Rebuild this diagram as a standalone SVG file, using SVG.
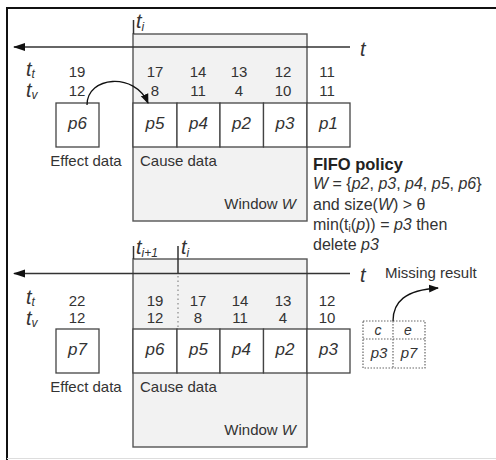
<svg xmlns="http://www.w3.org/2000/svg" width="496" height="460" viewBox="0 0 496 460">
<style>
text{font-family:"Liberation Sans",Arial,sans-serif;fill:#333}
.num{font-size:15px;text-anchor:middle}
.lab{font-size:15px}
.p{font-size:17px;font-style:italic;text-anchor:middle}
.it{font-style:italic}
.tl{font-size:20px;font-style:italic}
.sub{font-size:12px;font-style:italic}
.win{fill:#f2f2f2;stroke:#555;stroke-width:1.4}
.box{fill:#fff;stroke:#444;stroke-width:1.3}
.ax{stroke:#333;stroke-width:1.5;fill:none}
.dot{fill:none;stroke:#666;stroke-width:1.2;stroke-dasharray:1.5 1.5}
</style>
<defs>
<marker id="ah" viewBox="0 0 10 10" refX="9" refY="5" markerWidth="10" markerHeight="10" markerUnits="userSpaceOnUse" orient="auto">
<path d="M0,1 L10,5 L0,9 z" fill="#111"/>
</marker>
<marker id="axh" viewBox="0 0 12 10" refX="11" refY="5" markerWidth="12" markerHeight="10" markerUnits="userSpaceOnUse" orient="auto">
<path d="M0,1 L12,5 L0,9 z" fill="#111"/>
</marker>
</defs>
<g id="frame">
<path d="M7,460 V8 H496" fill="none" stroke="#111" stroke-width="2"/>
<line x1="7" y1="458.5" x2="496" y2="458.5" stroke="#ddd" stroke-width="1"/>
</g>

<!-- Top panel -->
<g id="window1"><rect class="win" x="133" y="34" width="174" height="187"/>
<text class="lab" x="140" y="166">Cause data</text>
<text class="lab" x="296" y="209" text-anchor="end">Window <tspan class="it">W</tspan></text></g>
<g id="axis1">
<line class="ax" x1="133.5" y1="20" x2="133.5" y2="34"/>
<text x="136" y="28"><tspan class="tl" font-size="17px">t</tspan><tspan class="sub" font-size="10px" dy="3">i</tspan></text>
<line class="ax" x1="350" y1="47" x2="14" y2="47" marker-end="url(#axh)"/>
<text class="tl" x="360" y="56" font-size="22px">t</text>
</g>
<g id="labels1">
<text x="26" y="76"><tspan class="tl">t</tspan><tspan class="sub" dy="2">t</tspan></text>
<text x="26" y="97"><tspan class="tl">t</tspan><tspan class="sub" dy="2">v</tspan></text>
<text class="num" x="77" y="77">19</text><text class="num" x="77" y="96">12</text>
<text class="num" x="155" y="77">17</text><text class="num" x="155" y="96">8</text>
<text class="num" x="198" y="77">14</text><text class="num" x="198" y="96">11</text>
<text class="num" x="239" y="77">13</text><text class="num" x="239" y="96">4</text>
<text class="num" x="283" y="77">12</text><text class="num" x="283" y="96">10</text>
<text class="num" x="327" y="77">11</text><text class="num" x="327" y="96">11</text>
</g>
<g id="p6a"><rect class="box" x="56" y="103" width="43" height="44"/><text class="p" x="77.5" y="129">p6</text></g>
<text class="lab" x="86" y="166" text-anchor="middle">Effect data</text>
<g id="p5a"><rect class="box" x="133" y="103" width="44" height="44"/><text class="p" x="155" y="129">p5</text></g>
<g id="p4a"><rect class="box" x="177" y="103" width="43" height="44"/><text class="p" x="198.5" y="129">p4</text></g>
<g id="p2a"><rect class="box" x="220" y="103" width="43.5" height="44"/><text class="p" x="241.5" y="129">p2</text></g>
<g id="p3a"><rect class="box" x="263.5" y="103" width="43.5" height="44"/><text class="p" x="285" y="129">p3</text></g>
<g id="p1a"><rect class="box" x="307" y="103" width="43" height="44"/><text class="p" x="328.5" y="129">p1</text></g>
<g id="fifo">
<text x="313" y="170" font-size="16.5px" font-weight="bold" style="fill:#222">FIFO policy</text>
<text x="313" y="189" font-size="16px"><tspan class="it">W</tspan> = {<tspan class="it">p2</tspan>, <tspan class="it">p3</tspan>, <tspan class="it">p4</tspan>, <tspan class="it">p5</tspan>, <tspan class="it">p6</tspan>}</text>
<text x="313" y="210" font-size="16px">and size(<tspan class="it">W</tspan>) &gt; θ</text>
<text x="313" y="230" font-size="16px">min(t<tspan font-size="10px" dy="2">i</tspan><tspan dy="-2">(</tspan><tspan class="it">p</tspan>)) = <tspan class="it">p3</tspan> then</text>
<text x="313" y="250" font-size="16px">delete <tspan class="it">p3</tspan></text>
</g>

<!-- Bottom panel -->
<g id="window2"><rect class="win" x="133" y="259" width="174" height="188"/>
<text class="lab" x="140" y="392">Cause data</text>
<text class="lab" x="296" y="435" text-anchor="end">Window <tspan class="it">W</tspan></text></g>
<g id="axis2">
<line class="ax" x1="133.5" y1="246" x2="133.5" y2="259"/>
<line class="ax" x1="178" y1="246" x2="178" y2="274"/>
<line x1="178" y1="276" x2="178" y2="329" stroke="#888" stroke-width="1.2" stroke-dasharray="1.5 3"/>
<text x="136" y="254"><tspan class="tl" font-size="17px">t</tspan><tspan class="sub" font-size="10px" dy="3">i+1</tspan></text>
<text x="181" y="254"><tspan class="tl" font-size="17px">t</tspan><tspan class="sub" font-size="10px" dy="3">i</tspan></text>
<line class="ax" x1="350" y1="273.5" x2="14" y2="273.5" marker-end="url(#axh)"/>
<text class="tl" x="360" y="282" font-size="22px">t</text>
</g>
<g id="labels2">
<text x="26" y="304"><tspan class="tl">t</tspan><tspan class="sub" dy="2">t</tspan></text>
<text x="26" y="325"><tspan class="tl">t</tspan><tspan class="sub" dy="2">v</tspan></text>
<text class="num" x="77" y="306">22</text><text class="num" x="77" y="323">12</text>
<text class="num" x="155" y="306">19</text><text class="num" x="155" y="323">12</text>
<text class="num" x="198" y="306">17</text><text class="num" x="198" y="323">8</text>
<text class="num" x="240" y="306">14</text><text class="num" x="240" y="323">11</text>
<text class="num" x="283" y="306">13</text><text class="num" x="283" y="323">4</text>
<text class="num" x="327" y="306">12</text><text class="num" x="327" y="323">10</text>
</g>
<g id="p7b"><rect class="box" x="56" y="329" width="43" height="44"/><text class="p" x="77.5" y="355">p7</text></g>
<text class="lab" x="86" y="392" text-anchor="middle">Effect data</text>
<g id="p6b"><rect class="box" x="133" y="329" width="44" height="44"/><text class="p" x="155" y="355">p6</text></g>
<g id="p5b"><rect class="box" x="177" y="329" width="43" height="44"/><text class="p" x="198.5" y="355">p5</text></g>
<g id="p4b"><rect class="box" x="220" y="329" width="43.5" height="44"/><text class="p" x="241.5" y="355">p4</text></g>
<g id="p2b"><rect class="box" x="263.5" y="329" width="43.5" height="44"/><text class="p" x="285" y="355">p2</text></g>
<g id="p3b"><rect class="box" x="307" y="329" width="43" height="44"/><text class="p" x="328.5" y="355">p3</text></g>
<g id="result">
<rect class="dot" x="363" y="321" width="62" height="47"/>
<line class="dot" x1="363" y1="339" x2="425" y2="339"/>
<line class="dot" x1="393" y1="321" x2="393" y2="368"/>
<text x="378" y="335" font-size="14px" class="it" text-anchor="middle">c</text>
<text x="408" y="335" font-size="14px" class="it" text-anchor="middle">e</text>
<text x="379" y="358" font-size="15px" class="it" text-anchor="middle">p3</text>
<text x="409" y="358" font-size="15px" class="it" text-anchor="middle">p7</text>
</g>
<text class="lab" x="385" y="278">Missing result</text>

<g id="connectors">
<path d="M87,105 C87,76 135,72 148,103" fill="none" stroke="#111" stroke-width="1.3" marker-end="url(#ah)"/>
<path d="M393,321 C393,302 405,290 438,288" fill="none" stroke="#111" stroke-width="1.3" marker-end="url(#ah)"/>
</g>
</svg>
